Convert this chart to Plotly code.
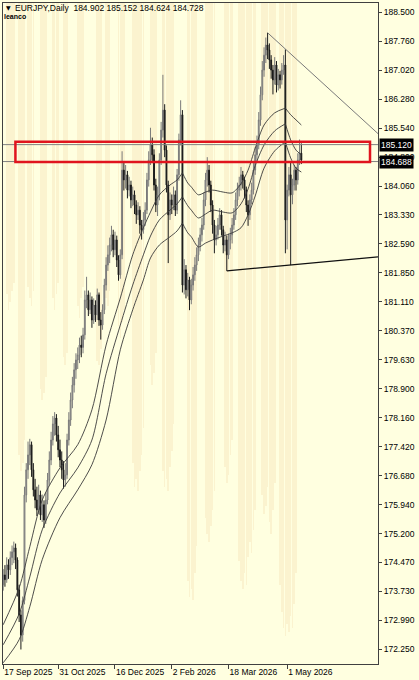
import plotly.graph_objects as go

# ---------------- data ----------------
symbol = "EURJPY,Daily"
bar_open = [
174.10, 173.90, 174.15, 174.03, 174.41, 174.28, 174.59, 174.74, 174.84, 174.53,
173.77, 173.13, 172.62, 173.50, 176.19, 176.83, 177.21, 177.47, 176.83, 176.32,
176.06, 175.81, 176.19, 175.68, 175.94, 175.55, 176.06, 176.57, 177.08, 177.59,
178.00, 178.15, 177.72, 177.34, 177.08, 176.83, 176.57, 176.70, 177.59, 178.10,
178.61, 178.99, 179.38, 179.63, 179.76, 180.01, 179.95, 180.27, 181.16, 181.29,
180.91, 181.16, 180.65, 181.03, 180.78, 181.29, 180.65, 180.52, 180.91, 181.54,
182.05, 182.31, 182.56, 182.82, 182.44, 182.69, 182.18, 181.80, 182.31, 184.47,
184.22, 184.35, 183.96, 184.09, 183.71, 183.84, 183.58, 183.33, 183.45, 183.07,
182.95, 183.20, 183.45, 184.22, 184.73, 185.11, 184.86, 184.09, 183.58, 183.84,
184.73, 185.49, 186.00, 184.98, 184.09, 183.33, 183.71, 183.58, 183.84, 183.45,
184.35, 185.24, 185.88, 181.54, 181.93, 181.42, 181.67, 181.16, 181.54, 181.80,
182.05, 182.31, 182.56, 182.82, 183.07, 183.71, 184.22, 184.47, 184.09, 183.58,
183.07, 182.69, 182.82, 183.07, 183.33, 182.95, 182.56, 182.69, 182.31, 182.69,
182.82, 183.07, 183.33, 183.71, 183.96, 184.09, 184.35, 184.22, 183.96, 183.58,
183.33, 183.71, 183.96, 184.47, 184.86, 185.11, 185.75, 186.39, 187.02, 187.40,
187.66, 187.53, 187.28, 187.02, 186.77, 187.15, 186.64, 186.90, 186.77, 187.02,
187.15, 183.20, 183.96, 184.35, 183.84, 184.09, 184.47, 184.22, 184.73, 184.902]
bar_high = [
174.35, 174.30, 174.40, 174.60, 174.55, 174.75, 174.90, 175.00, 174.95, 174.60,
173.90, 173.25, 173.60, 176.40, 177.00, 177.55, 177.62, 177.55, 177.00, 176.60,
176.40, 176.45, 176.30, 176.20, 176.05, 176.25, 176.75, 177.30, 177.80, 178.20,
178.30, 178.25, 177.95, 177.60, 177.30, 177.05, 177.00, 177.75, 178.30, 178.80,
179.20, 179.55, 179.80, 179.95, 180.20, 180.25, 180.45, 181.40, 181.75, 181.40,
181.35, 181.25, 181.20, 181.15, 181.45, 181.35, 180.85, 181.05, 181.70, 182.25,
182.55, 182.75, 183.05, 182.95, 182.90, 182.80, 182.30, 182.45, 184.95, 184.70,
184.60, 184.45, 184.30, 184.20, 184.05, 183.95, 183.70, 183.65, 183.55, 183.20,
183.40, 183.65, 184.40, 184.95, 185.55, 185.30, 185.00, 184.25, 184.05, 184.90,
185.70, 186.90, 186.15, 185.10, 184.20, 183.90, 183.85, 184.05, 183.95, 184.50,
185.40, 186.25, 186.00, 182.20, 182.05, 181.85, 181.75, 181.70, 182.00, 182.25,
182.50, 182.75, 183.00, 183.25, 183.90, 184.40, 184.80, 184.60, 184.20, 183.70,
183.20, 183.05, 183.25, 183.50, 183.45, 183.05, 182.90, 182.80, 182.85, 183.00,
183.25, 183.50, 183.90, 184.15, 184.30, 184.55, 184.45, 184.30, 184.05, 183.70,
183.85, 184.15, 184.65, 185.05, 185.35, 185.95, 186.60, 187.25, 187.60, 187.85,
187.97, 187.70, 187.40, 187.15, 187.35, 187.25, 187.05, 187.00, 187.20, 187.40,
187.55, 184.10, 184.55, 184.70, 184.25, 184.60, 184.55, 184.90, 185.25, 185.152]
bar_low = [
173.70, 173.75, 173.85, 173.95, 174.05, 174.15, 174.40, 174.45, 174.30, 173.60,
172.95, 172.25, 172.45, 173.40, 176.00, 176.60, 176.95, 176.65, 176.15, 175.85,
175.65, 175.70, 175.55, 175.50, 175.35, 175.45, 175.95, 176.45, 176.95, 177.45,
177.70, 177.55, 177.15, 176.90, 176.60, 176.35, 176.40, 176.60, 177.45, 177.95,
178.40, 178.80, 179.15, 179.40, 179.55, 179.70, 179.80, 180.15, 180.95, 180.75,
180.80, 180.45, 180.55, 180.60, 180.65, 180.50, 180.15, 180.40, 180.80, 181.40,
181.90, 182.10, 182.40, 182.25, 182.30, 182.00, 181.65, 181.70, 182.20, 183.95,
184.00, 183.75, 183.80, 183.50, 183.55, 183.35, 183.10, 183.20, 182.85, 182.70,
182.85, 183.05, 183.35, 184.05, 184.60, 184.65, 183.95, 183.40, 183.30, 183.70,
184.60, 185.30, 184.80, 183.90, 182.10, 183.20, 183.35, 183.45, 183.30, 183.35,
184.20, 185.10, 181.35, 181.30, 181.20, 181.25, 180.90, 181.05, 181.40, 181.65,
181.90, 182.15, 182.40, 182.65, 182.95, 183.55, 184.05, 183.90, 183.40, 182.85,
182.35, 182.55, 182.70, 182.95, 182.80, 182.35, 182.40, 181.90, 182.20, 182.45,
182.60, 182.95, 183.20, 183.55, 183.80, 183.95, 184.00, 183.75, 183.40, 183.05,
183.20, 183.60, 183.85, 184.35, 184.70, 185.00, 185.60, 186.25, 186.85, 187.20,
187.30, 187.05, 186.80, 186.40, 186.65, 186.45, 186.50, 186.55, 186.65, 186.90,
182.35, 182.45, 183.80, 182.05, 183.60, 183.95, 183.95, 184.10, 184.60, 184.624]
bar_close = [
173.90, 174.15, 174.03, 174.41, 174.28, 174.59, 174.74, 174.84, 174.53, 173.77,
173.13, 172.62, 173.50, 176.19, 176.83, 177.21, 177.47, 176.83, 176.32, 176.06,
175.81, 176.19, 175.68, 175.94, 175.55, 176.06, 176.57, 177.08, 177.59, 178.00,
178.15, 177.72, 177.34, 177.08, 176.83, 176.57, 176.70, 177.59, 178.10, 178.61,
178.99, 179.38, 179.63, 179.76, 180.01, 179.95, 180.27, 181.16, 181.29, 180.91,
181.16, 180.65, 181.03, 180.78, 181.29, 180.65, 180.52, 180.91, 181.54, 182.05,
182.31, 182.56, 182.82, 182.44, 182.69, 182.18, 181.80, 182.31, 184.47, 184.22,
184.35, 183.96, 184.09, 183.71, 183.84, 183.58, 183.33, 183.45, 183.07, 182.95,
183.20, 183.45, 184.22, 184.73, 185.11, 184.86, 184.09, 183.58, 183.84, 184.73,
185.49, 186.00, 184.98, 184.09, 183.33, 183.71, 183.58, 183.84, 183.45, 184.35,
185.24, 185.88, 181.54, 181.93, 181.42, 181.67, 181.16, 181.54, 181.80, 182.05,
182.31, 182.56, 182.82, 183.07, 183.71, 184.22, 184.47, 184.09, 183.58, 183.07,
182.69, 182.82, 183.07, 183.33, 182.95, 182.56, 182.69, 182.31, 182.69, 182.82,
183.07, 183.33, 183.71, 183.96, 184.09, 184.35, 184.22, 183.96, 183.58, 183.33,
183.71, 183.96, 184.47, 184.86, 185.11, 185.75, 186.39, 187.02, 187.40, 187.66,
187.53, 187.28, 187.02, 186.77, 187.15, 186.64, 186.90, 186.77, 187.02, 187.15,
183.20, 183.96, 184.35, 183.84, 184.09, 184.47, 184.22, 184.73, 184.90, 184.728]
bar_idx = list(range(len(bar_close)))

# three indicator lines (sampled), with cusps at the two big bars
ma_idx = [1, 10, 16, 23, 33, 43, 51, 59, 67, 74, 80, 84, 89, 95, 99, 102, 105, 107,
          111, 115, 119, 125, 130, 135, 139, 143, 148, 154, 160, 163, 166, 169]
ma_a = [172.88, 173.82, 174.87, 176.06, 176.88, 177.47, 178.36, 180.01, 181.21, 182.31,
        183.00, 183.40, 183.84, 184.09, 184.22, 184.40, 184.14, 184.04, 183.84, 183.91,
        183.96, 183.91, 183.89, 184.12, 184.47, 185.03, 185.62, 185.93, 186.05, 185.88,
        185.75, 185.62]
ma_b = [172.37, 173.16, 174.10, 175.30, 176.24, 176.88, 177.59, 179.28, 180.52, 181.54,
        182.31, 182.79, 183.20, 183.45, 183.61, 183.79, 183.56, 183.45, 183.25, 183.35,
        183.45, 183.40, 183.38, 183.61, 183.99, 184.58, 185.11, 185.47, 185.65, 185.24,
        184.98, 184.86]
ma_c = [171.91, 172.50, 173.34, 174.54, 175.61, 176.32, 176.96, 178.10, 179.89, 180.91,
        181.67, 182.23, 182.56, 182.77, 182.92, 183.12, 182.87, 182.77, 182.51, 182.61,
        182.69, 182.79, 182.87, 183.00, 183.33, 183.81, 184.52, 184.96, 185.19, 184.78,
        184.52, 184.42]
ma_cusps = [102, 160]

# faint background histogram (hanging from the top)
shade_idx = [3, 4, 5, 6, 7, 10, 11, 12, 13, 15, 16, 17, 18, 22, 23, 24, 25, 29, 30, 31, 32,
             35, 36, 37, 43, 44, 45, 46, 54, 55, 56, 59, 60, 61, 66, 67, 68, 69,
             74, 75, 76, 77, 78, 79, 80, 84, 85, 86, 87, 91, 92, 93, 94, 95, 96, 97,
             105, 106, 107, 108, 109, 110, 115, 116, 117, 118, 119, 120, 126, 127, 128, 129, 130,
             134, 135, 136, 137, 138, 139, 140, 141, 142, 143, 147, 148, 149, 150, 151, 152, 153, 154,
             157, 158, 159, 160, 161, 162, 163, 164, 165, 166]
shade_low = [181.3, 180.9, 181.1, 181.4, 181.6, 177.2, 176.8, 177.0, 177.6, 181.5, 181.2, 181.0, 181.4,
             178.9, 178.6, 178.8, 179.2, 181.2, 180.9, 181.3, 181.6, 179.7, 179.5, 179.8,
             181.0, 180.7, 181.2, 181.5, 179.6, 179.5, 179.9, 181.2, 181.0, 181.4, 180.5, 180.2, 180.6, 180.9,
             177.0, 176.4, 176.6, 176.3, 176.8, 177.2, 177.9, 179.5, 179.0, 179.3, 179.8,
             176.8, 176.4, 176.6, 176.3, 176.9, 177.3, 178.0, 174.0, 173.6, 173.8, 173.5, 174.2, 174.9,
             175.6, 175.2, 175.0, 175.4, 175.8, 176.3, 176.9, 176.5, 176.7, 177.2, 177.6,
             174.5, 174.0, 173.8, 174.2, 173.9, 174.6, 175.0, 174.7, 175.3, 175.8,
             176.2, 175.7, 175.9, 176.4, 175.5, 175.2, 175.8, 176.5,
             173.9, 173.2, 172.8, 172.6, 172.9, 172.7, 173.1, 172.8, 173.4, 174.2]

# drawn objects
levels = [185.120, 184.688]
box_idx = [7.9, 207.7]
box_price = [184.68, 185.19]
trend_top_idx = [150, 212.2]
trend_top_price = [187.97, 185.40]
trend_bot_idx = [127, 212.2]
trend_bot_price = [181.90, 182.26]

# axes
price_ticks = [188.500, 187.760, 187.020, 186.280, 185.540, 184.800, 184.060, 183.330,
               182.590, 181.850, 181.110, 180.370, 179.630, 178.900, 178.160, 177.420,
               176.680, 175.940, 175.200, 174.470, 173.730, 172.990, 172.250]
date_tick_idx = [1, 32, 64, 96, 128, 161]
date_labels = ["17 Sep 2025", "31 Oct 2025", "16 Dec 2025", "2 Feb 2026", "18 Mar 2026", "1 May 2026"]

x_range = [0.9, 212.2]
y_range = [171.88, 188.73]

# ---------------- figure ----------------
BG = "#ffffe0"
FONT = "Liberation Sans, Arial, sans-serif"
fig = go.Figure()

fig.add_trace(go.Bar(
    x=shade_idx, y=[y_range[1] - v for v in shade_low], base=shade_low, width=0.9,
    marker=dict(color="rgba(240,210,160,0.26)", line=dict(width=0)),
    hoverinfo="skip", showlegend=False))

cut = [0] + [ma_idx.index(c) for c in ma_cusps] + [len(ma_idx) - 1]
for series in (ma_a, ma_b, ma_c):
    for s in range(len(cut) - 1):
        a, b = cut[s], cut[s + 1] + 1
        fig.add_trace(go.Scatter(
            x=ma_idx[a:b], y=series[a:b], mode="lines",
            line=dict(color="#3a3a3a", width=0.9, shape="spline", smoothing=0.8),
            hoverinfo="skip", showlegend=False))

fig.add_trace(go.Candlestick(
    x=bar_idx, open=bar_open, high=bar_high, low=bar_low, close=bar_close,
    increasing=dict(line=dict(color="#7a7a7a", width=1), fillcolor="#b4b4b4"),
    decreasing=dict(line=dict(color="#1a1a1a", width=1), fillcolor="#1a1a1a"),
    whiskerwidth=0, hoverinfo="skip", showlegend=False))

shapes = []
for lv in levels:
    shapes.append(dict(type="line", xref="paper", x0=0, x1=1, yref="y", y0=lv, y1=lv,
                       line=dict(color="#808080", width=1)))
shapes.append(dict(type="line", xref="x", yref="y",
                   x0=trend_top_idx[0], x1=trend_top_idx[1],
                   y0=trend_top_price[0], y1=trend_top_price[1],
                   line=dict(color="#7a7a7a", width=1)))
shapes.append(dict(type="line", xref="x", yref="y",
                   x0=trend_bot_idx[0], x1=trend_bot_idx[1],
                   y0=trend_bot_price[0], y1=trend_bot_price[1],
                   line=dict(color="#101010", width=1.3)))
shapes.append(dict(type="rect", xref="x", yref="y",
                   x0=box_idx[0], x1=box_idx[1], y0=box_price[0], y1=box_price[1],
                   line=dict(color="#e0141e", width=2.5), fillcolor="rgba(0,0,0,0)"))

annotations = []
for lv in levels:
    annotations.append(dict(xref="paper", x=1, xanchor="left", xshift=1,
                            yref="y", y=lv, yanchor="middle",
                            text=f"{lv:.3f}", showarrow=False,
                            bgcolor="#000000", borderpad=1,
                            font=dict(family=FONT, size=8.5, color="#ffffff")))
annotations.append(dict(xref="paper", x=0.003, xanchor="left", yref="paper", y=0.9925,
                        yanchor="middle", text="▼", showarrow=False,
                        font=dict(family="DejaVu Sans", size=6, color="#000000")))
annotations.append(dict(xref="paper", x=0.027, xanchor="left", yref="paper", y=0.9925,
                        yanchor="middle", showarrow=False,
                        text=f"{symbol}  {bar_open[-1]:.3f} {bar_high[-1]:.3f} {bar_low[-1]:.3f} {bar_close[-1]:.3f}",
                        font=dict(family=FONT, size=8.5, color="#000000")))
annotations.append(dict(xref="paper", x=-0.003, xanchor="left", yref="paper", y=0.980,
                        yanchor="middle", text="<b>leanco</b>", showarrow=False,
                        font=dict(family=FONT, size=7, color="#000000")))

fig.update_layout(
    width=419, height=680, autosize=False,
    margin=dict(l=3, r=41, t=3, b=16, pad=0),
    paper_bgcolor=BG, plot_bgcolor=BG,
    bargap=0, showlegend=False,
    shapes=shapes, annotations=annotations,
    font=dict(family=FONT, size=8.5, color="#000000"),
    xaxis=dict(range=x_range, tickvals=date_tick_idx, ticktext=date_labels,
               ticks="outside", ticklen=4, tickcolor="#404040", tickangle=0,
               ticklabelposition="outside right",
               showgrid=False, zeroline=False, showline=True, linecolor="#404040",
               linewidth=1, mirror=True, rangeslider=dict(visible=False),
               tickfont=dict(family=FONT, size=8.5, color="#000000")),
    yaxis=dict(range=y_range, side="right", tickvals=price_ticks,
               ticktext=[f"{v:.3f}" for v in price_ticks],
               ticks="outside", ticklen=3, tickcolor="#404040",
               showgrid=False, zeroline=False, showline=True, linecolor="#404040",
               linewidth=1, mirror=True,
               tickfont=dict(family=FONT, size=8.5, color="#000000")),
)

fig.write_html("out.html", config={"displayModeBar": False},
               post_script="document.body.style.margin='0';document.body.style.background='#ffffe0';")
